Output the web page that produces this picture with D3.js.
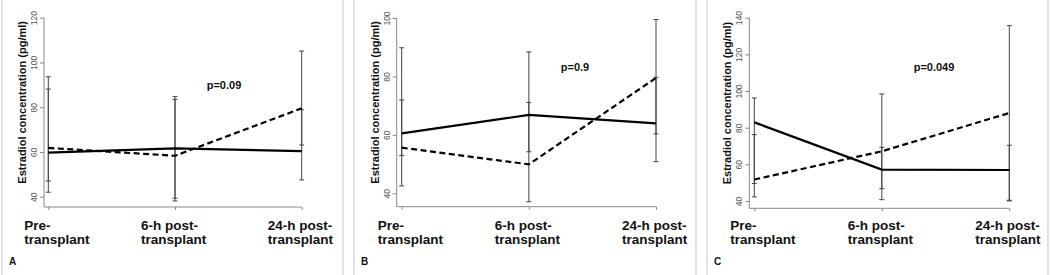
<!DOCTYPE html>
<html>
<head>
<meta charset="utf-8">
<script src="https://cdn.jsdelivr.net/npm/d3@7"></script>
<style>
  html, body { margin: 0; padding: 0; background: #fff; }
  svg { display: block; font-family: "Liberation Sans", Arial, sans-serif; }
  .tick-label { font-size: 8.5px; fill: #555; }
  .axis-title { font-size: 11px; font-weight: bold; fill: #111; }
  .cat-label { font-size: 13.5px; font-weight: bold; fill: #111; }
  .p-label { font-size: 11px; font-weight: bold; fill: #111; }
  .panel-letter { font-size: 10px; font-weight: bold; fill: #111; }
</style>
</head>
<body>
<div id="chart"></div>
<script>
// Time points (two-line labels) shared by all panels
const categories = [["Pre-", "transplant"], ["6-h post-", "transplant"], ["24-h post-", "transplant"]];
const panelLetters = ["A", "B", "C"];
const pValues = ["p=0.09", "p=0.9", "p=0.049"];

// Solid line group: means and error bar limits, one row per panel
const solidMeans = [[59.7, 61.6, 60.4], [60.5, 66.8, 63.9], [82.9, 57.1, 56.9]];
const solidLow = [[42.0, 39.3, 47.5], [52.9, 54.2, 50.8], [49.5, 40.7, 40.4]];
const solidHigh = [[88.1, 84.7, 78.9], [89.8, 88.4, 79.7], [96.2, 69.3, 70.4]];

// Dashed line group
const dashedMeans = [[61.8, 58.3, 79.5], [55.6, 49.9, 79.5], [51.7, 67.1, 88.0]];
const dashedLow = [[47.0, 38.1, 63.1], [42.5, 37.1, 60.3], [42.2, 46.7, 40.0]];
const dashedHigh = [[93.6, 83.5, 105.1], [71.9, 71.1, 99.5], [76.2, 98.4, 135.7]];

// Y axis ticks and domain per panel
const yTicks = [[40, 60, 80, 100, 120], [40, 60, 80, 100], [40, 60, 80, 100, 120, 140]];
const yDomains = [[35.4, 120], [35.4, 100], [36, 140]];

const width = 1050, height = 275;

// Pixel layout of each panel (frame edges, axis origin, ranges)
const layout = [
  { left: 2, right: 343, axisX: 44, xRange: [48.3, 301.7], yRange: [207, 17.7], pPos: [224, 89] },
  { left: 354, right: 696, axisX: 396.7, xRange: [401.7, 656], yRange: [206.7, 18], pPos: [575, 71] },
  { left: 707, right: 1048, axisX: 749.3, xRange: [754.3, 1009.3], yRange: [208.3, 17.7], pPos: [934, 71] }
];

const svg = d3.select("#chart").append("svg")
  .attr("width", width)
  .attr("height", height)
  .attr("viewBox", `0 0 ${width} ${height}`);

svg.append("rect").attr("width", width).attr("height", height).attr("fill", "#fff");

layout.forEach((L, i) => {
  const g = svg.append("g");

  // Light frame separators
  [L.left, L.right].forEach((fx) => {
    g.append("line")
      .attr("x1", fx).attr("x2", fx)
      .attr("y1", 0).attr("y2", height)
      .attr("stroke", "#e2e2e2").attr("stroke-width", 2);
  });

  const x = d3.scalePoint().domain(d3.range(categories.length)).range(L.xRange);
  const y = d3.scaleLinear().domain(yDomains[i]).range(L.yRange);

  // Y axis: line, ticks, rotated tick labels
  const yAxis = d3.axisLeft(y).tickValues(yTicks[i]).tickSize(4).tickFormat(d3.format("d"));
  const yG = g.append("g").attr("transform", `translate(${L.axisX},0)`).call(yAxis);
  yG.select(".domain").attr("d", `M0,${y(yTicks[i][yTicks[i].length - 1])}V${L.yRange[0]}`).attr("stroke", "#888");
  yG.selectAll(".tick line").attr("stroke", "#888");
  yG.selectAll(".tick text")
    .attr("class", "tick-label")
    .attr("x", null)
    .attr("text-anchor", "middle")
    .attr("transform", "translate(-10,0) rotate(-90)")
    .attr("dy", "0.35em")
    .style("font-family", "inherit");

  // X axis: line from y axis to last tick, small ticks downward
  const xAxis = d3.axisBottom(x).tickSize(3).tickFormat("");
  const xG = g.append("g").attr("transform", `translate(0,${L.yRange[0]})`).call(xAxis);
  xG.select(".domain").attr("d", `M${L.axisX},0H${L.xRange[1]}`).attr("stroke", "#888");
  xG.selectAll(".tick line").attr("stroke", "#888");

  // Y axis title
  g.append("text")
    .attr("class", "axis-title")
    .attr("text-anchor", "middle")
    .attr("transform", `translate(${L.axisX - 18},${(L.yRange[0] + L.yRange[1]) / 2 - 10}) rotate(-90)`)
    .text("Estradiol concentration (pg/ml)");

  // Category labels, two lines each
  categories.forEach((lines, c) => {
    const t = g.append("text").attr("class", "cat-label");
    t.attr("x", c === 0 ? x(c) - 24 : x(c) - 34).attr("text-anchor", "start");
    lines.forEach((s, k) => {
      t.append("tspan").attr("x", t.attr("x")).attr("y", 230 + k * 14).text(s);
    });
  });

  // Error bars for both groups
  const groups = [
    { low: solidLow[i], high: solidHigh[i] },
    { low: dashedLow[i], high: dashedHigh[i] }
  ];
  groups.forEach((grp) => {
    categories.forEach((_, c) => {
      const cx = x(c);
      g.append("line")
        .attr("x1", cx).attr("x2", cx)
        .attr("y1", y(grp.low[c])).attr("y2", y(grp.high[c]))
        .attr("stroke", "#444").attr("stroke-width", 1);
      [grp.low[c], grp.high[c]].forEach((v) => {
        g.append("line")
          .attr("x1", cx - 2.5).attr("x2", cx + 2.5)
          .attr("y1", y(v)).attr("y2", y(v))
          .attr("stroke", "#444").attr("stroke-width", 1);
      });
    });
  });

  // Mean lines
  const line = d3.line().x((d, c) => x(c)).y((d) => y(d));
  g.append("path")
    .datum(solidMeans[i])
    .attr("d", line)
    .attr("fill", "none").attr("stroke", "#000").attr("stroke-width", 2.2);
  g.append("path")
    .datum(dashedMeans[i])
    .attr("d", line)
    .attr("fill", "none").attr("stroke", "#000").attr("stroke-width", 2.2)
    .attr("stroke-dasharray", "6,3.5");

  // p value annotation
  g.append("text")
    .attr("class", "p-label")
    .attr("text-anchor", "middle")
    .attr("x", L.pPos[0]).attr("y", L.pPos[1])
    .text(pValues[i]);

  // Panel letter
  g.append("text")
    .attr("class", "panel-letter")
    .attr("x", L.left + 7).attr("y", 265)
    .text(panelLetters[i]);
});
</script>
</body>
</html>
